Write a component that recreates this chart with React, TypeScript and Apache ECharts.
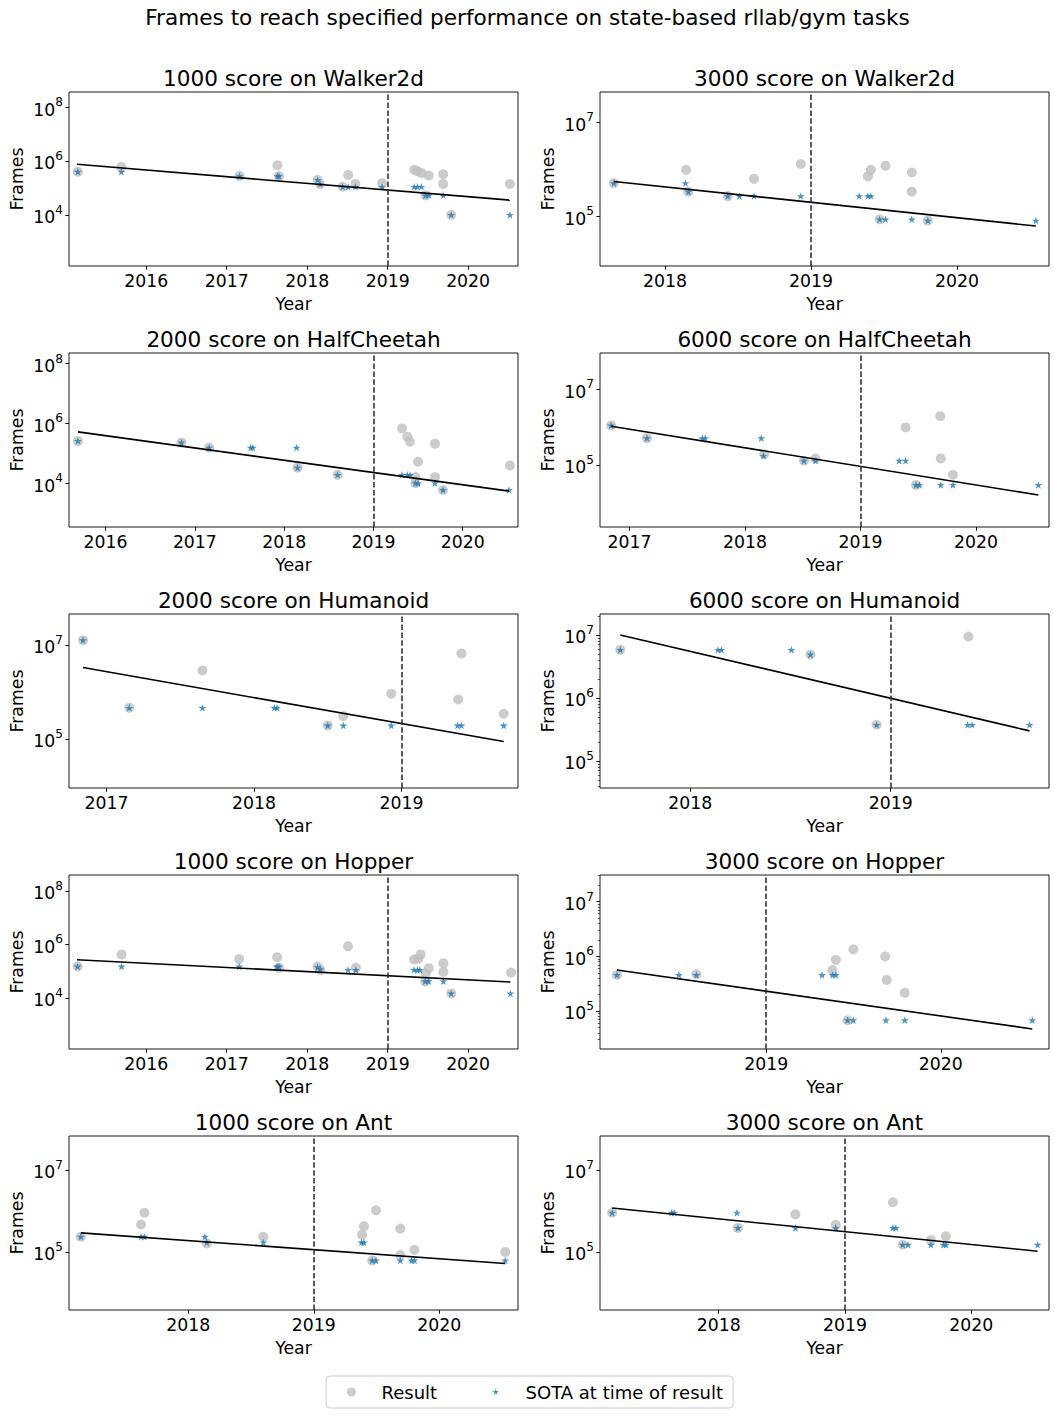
import React, { useEffect, useRef } from 'react';
import * as echarts from 'echarts';

const FONT = 'DejaVu Sans';
const SUPTITLE = 'Frames to reach specified performance on state-based rllab/gym tasks';
const LEGEND_RESULT = 'Result';
const LEGEND_SOTA = 'SOTA at time of result';

const panelTitles = [
  '1000 score on Walker2d', '3000 score on Walker2d',
  '2000 score on HalfCheetah', '6000 score on HalfCheetah',
  '2000 score on Humanoid', '6000 score on Humanoid',
  '1000 score on Hopper', '3000 score on Hopper',
  '1000 score on Ant', '3000 score on Ant',
];

// ---- 1000 score on Walker2d
const walker1kResultYear = [2015.15, 2015.69, 2017.16, 2017.63, 2017.65, 2018.13, 2018.16, 2018.44, 2018.51, 2018.60, 2018.93, 2019.33, 2019.37, 2019.42, 2019.51, 2019.47, 2019.69, 2019.69, 2019.79, 2020.52];
const walker1kResultFrames = [4.0e5, 6.0e5, 2.75e5, 7.0e5, 2.75e5, 2.0e5, 1.4e5, 1.1e5, 3.0e5, 1.4e5, 1.5e5, 4.7e5, 4.2e5, 3.6e5, 2.9e5, 5.3e4, 3.2e5, 1.4e5, 1.0e4, 1.4e5];
const walker1kSotaYear = [2015.15, 2015.69, 2017.16, 2017.63, 2017.65, 2018.13, 2018.16, 2018.44, 2018.51, 2018.60, 2018.93, 2019.33, 2019.37, 2019.42, 2019.47, 2019.51, 2019.69, 2019.79, 2020.52];
const walker1kSotaFrames = [4.0e5, 4.0e5, 2.75e5, 2.75e5, 2.75e5, 2.0e5, 1.4e5, 1.1e5, 1.1e5, 1.1e5, 1.1e5, 1.1e5, 1.1e5, 1.1e5, 5.3e4, 5.3e4, 5.3e4, 1.0e4, 1.0e4];
const walker1kTrend = [2015.14, 7.5e5, 2020.52, 3.5e4];

// ---- 3000 score on Walker2d
const walker3kResultYear = [2017.65, 2018.145, 2018.16, 2018.43, 2018.61, 2018.93, 2019.39, 2019.41, 2019.51, 2019.47, 2019.69, 2019.69, 2019.80];
const walker3kResultFrames = [5.1e5, 9.8e5, 3.35e5, 2.7e5, 6.3e5, 1.3e6, 7.1e5, 9.8e5, 1.2e6, 8.6e4, 8.6e5, 3.35e5, 8.1e4];
const walker3kSotaYear = [2017.65, 2018.14, 2018.16, 2018.43, 2018.51, 2018.61, 2018.93, 2019.33, 2019.39, 2019.41, 2019.47, 2019.51, 2019.69, 2019.80, 2020.54];
const walker3kSotaFrames = [5.1e5, 5.1e5, 3.35e5, 2.7e5, 2.7e5, 2.7e5, 2.7e5, 2.7e5, 2.7e5, 2.7e5, 8.6e4, 8.6e4, 8.6e4, 8.1e4, 8.1e4];
const walker3kTrend = [2017.65, 5.5e5, 2020.54, 6.2e4];

// ---- 2000 score on HalfCheetah
const cheetah2kResultYear = [2015.69, 2016.85, 2017.16, 2018.15, 2018.60, 2019.32, 2019.38, 2019.41, 2019.50, 2019.47, 2019.47, 2019.69, 2019.69, 2019.78, 2020.53];
const cheetah2kResultFrames = [2.6e5, 2.3e5, 1.55e5, 3.3e4, 1.9e4, 6.8e5, 3.6e5, 2.45e5, 5.2e4, 1.6e4, 1.0e4, 2.1e5, 1.6e4, 5.9e3, 3.9e4];
const cheetah2kSotaYear = [2015.69, 2016.85, 2017.16, 2017.625, 2017.65, 2018.14, 2018.15, 2018.60, 2019.32, 2019.38, 2019.41, 2019.47, 2019.50, 2019.69, 2019.78, 2020.52];
const cheetah2kSotaFrames = [2.6e5, 2.3e5, 1.55e5, 1.55e5, 1.55e5, 1.55e5, 3.3e4, 1.9e4, 1.9e4, 1.9e4, 1.9e4, 1.0e4, 1.0e4, 1.0e4, 5.9e3, 5.9e3];
const cheetah2kTrend = [2015.69, 5.2e5, 2020.52, 5.4e3];

// ---- 6000 score on HalfCheetah
const cheetah6kResultYear = [2016.84, 2017.15, 2018.165, 2018.51, 2018.61, 2019.39, 2019.48, 2019.69, 2019.695, 2019.80];
const cheetah6kResultFrames = [1.11e6, 5.1e5, 1.9e5, 1.29e5, 1.48e5, 9.8e5, 2.95e4, 1.95e6, 1.48e5, 5.5e4];
const cheetah6kSotaYear = [2016.84, 2017.15, 2017.63, 2017.655, 2018.14, 2018.16, 2018.51, 2018.61, 2019.335, 2019.39, 2019.48, 2019.51, 2019.695, 2019.80, 2020.54];
const cheetah6kSotaFrames = [1.11e6, 5.1e5, 5.1e5, 5.1e5, 5.1e5, 1.74e5, 1.29e5, 1.29e5, 1.29e5, 1.29e5, 2.95e4, 2.95e4, 2.95e4, 2.95e4, 2.95e4];
const cheetah6kTrend = [2016.84, 1.05e6, 2020.54, 1.6e4];

// ---- 2000 score on Humanoid
const humanoid2kResultYear = [2016.84, 2017.154, 2017.65, 2018.5, 2018.605, 2018.93, 2019.385, 2019.406, 2019.693];
const humanoid2kResultFrames = [1.26e7, 4.6e5, 2.86e6, 1.93e5, 3.06e5, 9.2e5, 6.9e5, 6.6e6, 3.44e5];
const humanoid2kSotaYear = [2016.84, 2017.154, 2017.65, 2018.138, 2018.156, 2018.5, 2018.605, 2018.93, 2019.38, 2019.406, 2019.693];
const humanoid2kSotaFrames = [1.26e7, 4.6e5, 4.6e5, 4.6e5, 4.6e5, 1.93e5, 1.93e5, 1.93e5, 1.93e5, 1.93e5, 1.93e5];
const humanoid2kTrend = [2016.84, 3.3e6, 2019.693, 8.8e4];

// ---- 6000 score on Humanoid
const humanoid6kResultYear = [2017.651, 2018.60, 2018.93, 2019.388];
const humanoid6kResultFrames = [5.8e6, 4.9e6, 3.75e5, 9.4e6];
const humanoid6kSotaYear = [2017.651, 2018.139, 2018.156, 2018.505, 2018.60, 2018.93, 2019.384, 2019.406, 2019.693];
const humanoid6kSotaFrames = [5.8e6, 5.8e6, 5.8e6, 5.8e6, 4.9e6, 3.75e5, 3.75e5, 3.75e5, 3.75e5];
const humanoid6kTrend = [2017.651, 1.0e7, 2019.693, 3.0e5];

// ---- 1000 score on Hopper
const hopper1kResultYear = [2015.147, 2015.693, 2017.155, 2017.626, 2017.65, 2018.13, 2018.164, 2018.508, 2018.605, 2019.328, 2019.382, 2019.41, 2019.51, 2019.475, 2019.467, 2019.693, 2019.693, 2019.79, 2020.534];
const hopper1kResultFrames = [1.48e5, 4.2e5, 2.8e5, 3.3e5, 1.32e5, 1.48e5, 1.11e5, 8.4e5, 1.32e5, 2.7e5, 2.9e5, 4.2e5, 1.28e5, 8.3e4, 4.0e4, 1.98e5, 9.3e4, 1.46e4, 8.8e4];
const hopper1kSotaYear = [2015.147, 2015.693, 2017.155, 2017.626, 2017.65, 2018.13, 2018.164, 2018.508, 2018.605, 2019.328, 2019.37, 2019.40, 2019.467, 2019.51, 2019.693, 2019.79, 2020.525];
const hopper1kSotaFrames = [1.48e5, 1.48e5, 1.48e5, 1.48e5, 1.48e5, 1.4e5, 1.17e5, 1.11e5, 1.11e5, 1.11e5, 1.11e5, 1.11e5, 4.2e4, 4.2e4, 4.2e4, 1.46e4, 1.46e4];
const hopper1kTrend = [2015.139, 2.64e5, 2020.525, 3.9e4];

// ---- 3000 score on Hopper
const hopper3kResultYear = [2018.145, 2018.60, 2019.38, 2019.399, 2019.499, 2019.466, 2019.682, 2019.69, 2019.794];
const hopper3kResultFrames = [4.55e5, 4.7e5, 5.6e5, 8.6e5, 1.34e6, 6.8e4, 9.9e5, 3.7e5, 2.15e5];
const hopper3kSotaYear = [2018.145, 2018.50, 2018.60, 2019.32, 2019.38, 2019.399, 2019.466, 2019.499, 2019.686, 2019.794, 2020.524];
const hopper3kSotaFrames = [4.55e5, 4.55e5, 4.55e5, 4.55e5, 4.55e5, 4.55e5, 6.8e4, 6.8e4, 6.8e4, 6.8e4, 6.8e4];
const hopper3kTrend = [2018.145, 5.6e5, 2020.524, 4.7e4];

// ---- 1000 score on Ant
const ant1kResultYear = [2017.143, 2017.623, 2017.65, 2018.148, 2018.598, 2019.385, 2019.40, 2019.496, 2019.466, 2019.69, 2019.69, 2019.803, 2020.526];
const ant1kResultFrames = [2.34e5, 4.65e5, 9.0e5, 1.6e5, 2.34e5, 2.63e5, 4.2e5, 1.03e6, 6.2e4, 3.7e5, 8.4e4, 1.12e5, 1.0e5];
const ant1kSotaYear = [2017.143, 2017.623, 2017.65, 2018.132, 2018.148, 2018.598, 2019.38, 2019.40, 2019.466, 2019.496, 2019.69, 2019.78, 2019.803, 2020.526];
const ant1kSotaFrames = [2.34e5, 2.34e5, 2.34e5, 2.34e5, 1.7e5, 1.7e5, 1.7e5, 1.7e5, 6.2e4, 6.2e4, 6.2e4, 6.2e4, 6.2e4, 6.2e4];
const ant1kTrend = [2017.143, 2.9e5, 2020.526, 5.2e4];

// ---- 3000 score on Ant
const ant3kResultYear = [2017.156, 2018.152, 2018.607, 2018.927, 2019.379, 2019.457, 2019.68, 2019.798];
const ant3kResultFrames = [9.0e5, 3.84e5, 8.2e5, 4.55e5, 1.62e6, 1.49e5, 1.94e5, 2.4e5];
const ant3kSotaYear = [2017.156, 2017.627, 2017.648, 2018.144, 2018.152, 2018.607, 2018.927, 2019.379, 2019.403, 2019.457, 2019.499, 2019.68, 2019.779, 2019.798, 2020.525];
const ant3kSotaFrames = [9.0e5, 9.0e5, 9.0e5, 9.0e5, 3.84e5, 3.84e5, 3.84e5, 3.84e5, 3.84e5, 1.49e5, 1.49e5, 1.49e5, 1.49e5, 1.49e5, 1.49e5];
const ant3kTrend = [2017.156, 1.17e6, 2020.525, 1.04e5];

// axis extents (years; frames as powers of ten) and tick labels
const xExtents = [
  [2015.04, 2020.62], [2017.555, 2020.63], [2015.59, 2020.62], [2016.744, 2020.632], [2016.745, 2019.79],
  [2017.55, 2019.79], [2015.04, 2020.62], [2018.048, 2020.62], [2017.049, 2020.628], [2017.06, 2020.615],
];
const yExtentExp = [
  [2.1, 8.56], [3.94, 7.65], [2.53, 8.36], [3.357, 7.96], [3.957, 7.657],
  [4.571, 7.332], [2.088, 8.59], [4.305, 7.486], [3.584, 7.823], [3.584, 7.823],
];
const xTickYears = [
  [2016, 2017, 2018, 2019, 2020], [2018, 2019, 2020], [2016, 2017, 2018, 2019, 2020], [2017, 2018, 2019, 2020], [2017, 2018, 2019],
  [2018, 2019], [2016, 2017, 2018, 2019, 2020], [2019, 2020], [2018, 2019, 2020], [2018, 2019, 2020],
];
const yTickExponents = [[4, 6, 8], [5, 7], [4, 6, 8], [5, 7], [5, 7], [5, 6, 7], [4, 6, 8], [5, 6, 7], [5, 7], [5, 7]];
const hasMinorTicks = [false, false, false, false, false, true, false, true, false, false];
const milestoneYear = 2019;

const panelData = [
  [walker1kResultYear, walker1kResultFrames, walker1kSotaYear, walker1kSotaFrames, walker1kTrend],
  [walker3kResultYear, walker3kResultFrames, walker3kSotaYear, walker3kSotaFrames, walker3kTrend],
  [cheetah2kResultYear, cheetah2kResultFrames, cheetah2kSotaYear, cheetah2kSotaFrames, cheetah2kTrend],
  [cheetah6kResultYear, cheetah6kResultFrames, cheetah6kSotaYear, cheetah6kSotaFrames, cheetah6kTrend],
  [humanoid2kResultYear, humanoid2kResultFrames, humanoid2kSotaYear, humanoid2kSotaFrames, humanoid2kTrend],
  [humanoid6kResultYear, humanoid6kResultFrames, humanoid6kSotaYear, humanoid6kSotaFrames, humanoid6kTrend],
  [hopper1kResultYear, hopper1kResultFrames, hopper1kSotaYear, hopper1kSotaFrames, hopper1kTrend],
  [hopper3kResultYear, hopper3kResultFrames, hopper3kSotaYear, hopper3kSotaFrames, hopper3kTrend],
  [ant1kResultYear, ant1kResultFrames, ant1kSotaYear, ant1kSotaFrames, ant1kTrend],
  [ant3kResultYear, ant3kResultFrames, ant3kSotaYear, ant3kSotaFrames, ant3kTrend],
];

const STAR = 'path://M100,0L122.45,69.1L195.11,69.1L136.33,111.8L158.78,180.9L100,138.2L41.22,180.9L63.67,111.8L4.89,69.1L77.55,69.1Z';
const STAR_LEGEND = 'path://M-32,-37M232,227M100,0L122.45,69.1L195.11,69.1L136.33,111.8L158.78,180.9L100,138.2L41.22,180.9L63.67,111.8L4.89,69.1L77.55,69.1Z';

const GRID_LEFT = [69, 600];
const GRID_TOP = [92, 353, 614, 875, 1136];
const GRID_W = 449;
const GRID_H = 174;
const TICK_FS = 17.3;
const TITLE_FS = 21.6;

function buildOption(): any {
  const title: any[] = [{
    text: SUPTITLE, left: 527.5, top: 6, textAlign: 'center', padding: 0,
    textStyle: { fontFamily: FONT, fontSize: TITLE_FS, fontWeight: 'normal', color: '#000' },
  }];
  const grid: any[] = [];
  const xAxis: any[] = [];
  const yAxis: any[] = [];
  const series: any[] = [];
  const log = (v: number) => Math.log10(v);

  panelData.forEach((pd, i) => {
    const [resX, resY, sotaX, sotaY, trend] = pd as number[][];
    const col = i % 2;
    const row = Math.floor(i / 2);
    const left = GRID_LEFT[col];
    const top = GRID_TOP[row];
    grid.push({
      left, top, width: GRID_W, height: GRID_H, show: true,
      borderColor: '#000', borderWidth: 0.9, backgroundColor: 'transparent',
      containLabel: false, outerBoundsMode: 'none',
    });
    title.push({
      text: panelTitles[i], left: left + GRID_W / 2, top: top - 25, textAlign: 'center', padding: 0,
      textStyle: { fontFamily: FONT, fontSize: TITLE_FS, fontWeight: 'normal', color: '#000' },
    });
    xAxis.push({
      type: 'value', gridIndex: i, min: xExtents[i][0], max: xExtents[i][1],
      name: 'Year', nameLocation: 'middle', nameGap: 29,
      nameTextStyle: { fontFamily: FONT, fontSize: TICK_FS, color: '#000' },
      axisLine: { show: false },
      axisTick: { show: true, length: 3.8, lineStyle: { color: '#000', width: 0.9 }, customValues: xTickYears[i] },
      axisLabel: {
        show: true, customValues: xTickYears[i], margin: 6,
        fontFamily: FONT, fontSize: TICK_FS, color: '#000',
        formatter: (v: number) => String(v),
      },
      splitLine: { show: false },
    });
    const yMin = yExtentExp[i][0];
    const yMax = yExtentExp[i][1];
    yAxis.push({
      type: 'value', gridIndex: i, min: yMin, max: yMax, position: 'left',
      name: 'Frames', nameLocation: 'middle', nameGap: 44,
      nameTextStyle: { fontFamily: FONT, fontSize: TICK_FS, color: '#000' },
      axisLine: { show: false },
      axisTick: { show: true, length: 3.8, lineStyle: { color: '#000', width: 0.9 }, customValues: yTickExponents[i] },
      axisLabel: {
        show: true, customValues: yTickExponents[i], margin: 6,
        formatter: (v: number) => `{b|10}{s|${v}}`,
        rich: {
          b: { fontFamily: FONT, fontSize: TICK_FS, color: '#000', padding: [5, 0, 0, 0] },
          s: { fontFamily: FONT, fontSize: 12.1, color: '#000', verticalAlign: 'top' },
        },
      },
      splitLine: { show: false },
    });
    const minors: number[] = [];
    if (hasMinorTicks[i]) {
      for (let n = Math.floor(yMin); n <= Math.ceil(yMax); n++) {
        for (let k = 2; k <= 9; k++) {
          const e = n + Math.log10(k);
          if (e > yMin && e < yMax) minors.push(e);
        }
      }
    }
    yAxis.push({
      type: 'value', gridIndex: i, min: yMin, max: yMax, position: 'left', offset: 0,
      axisLine: { show: false },
      axisTick: { show: minors.length > 0, length: 2.2, lineStyle: { color: '#000', width: 0.65 }, customValues: minors.length ? minors : undefined },
      axisLabel: { show: false },
      splitLine: { show: false },
    });
    series.push({
      name: LEGEND_RESULT, type: 'scatter', xAxisIndex: i, yAxisIndex: 2 * i,
      symbol: 'circle', symbolSize: 10, itemStyle: { color: '#bfbfbf' }, z: 2,
      data: resX.map((x, j) => [x, log(resY[j])]),
    });
    series.push({
      name: LEGEND_SOTA, type: 'scatter', xAxisIndex: i, yAxisIndex: 2 * i,
      symbol: STAR, symbolSize: 8, symbolKeepAspect: true, itemStyle: { color: '#1f77b4' }, z: 3,
      data: sotaX.map((x, j) => [x, log(sotaY[j])]),
    });
    series.push({
      name: 'trend', type: 'line', xAxisIndex: i, yAxisIndex: 2 * i, z: 4,
      symbol: 'none', silent: true,
      lineStyle: { color: '#000', width: 1.6 },
      data: [[trend[0], log(trend[1])], [trend[2], log(trend[3])]],
      markLine: {
        silent: true, symbol: ['none', 'none'], label: { show: false },
        lineStyle: { color: '#333', width: 1.6, type: [5.5, 2.4] },
        data: [{ xAxis: milestoneYear }],
      },
    });
  });

  return {
    animation: false,
    backgroundColor: '#fff',
    title,
    grid,
    xAxis,
    yAxis,
    series,
    legend: {
      left: 326, top: 1376, orient: 'horizontal',
      padding: [7, 10, 7, 21], itemGap: 54, itemWidth: 50, itemHeight: 9,
      borderColor: '#cccccc', borderWidth: 1, borderRadius: 4, backgroundColor: '#fff',
      selectedMode: false,
      textStyle: { fontFamily: FONT, fontSize: 18, color: '#000' },
      data: [
        { name: LEGEND_RESULT, icon: 'circle' },
        { name: LEGEND_SOTA, icon: STAR_LEGEND },
      ],
    },
  };
}

export default function App() {
  const ref = useRef<HTMLDivElement>(null);
  useEffect(() => {
    if (!ref.current) return;
    const chart = echarts.init(ref.current, undefined, { renderer: 'svg' });
    chart.setOption(buildOption());
    return () => chart.dispose();
  }, []);
  return (
    <div
      ref={ref}
      style={{ position: 'absolute', left: 0, top: 0, width: 1055, height: 1416, background: '#fff' }}
    />
  );
}
